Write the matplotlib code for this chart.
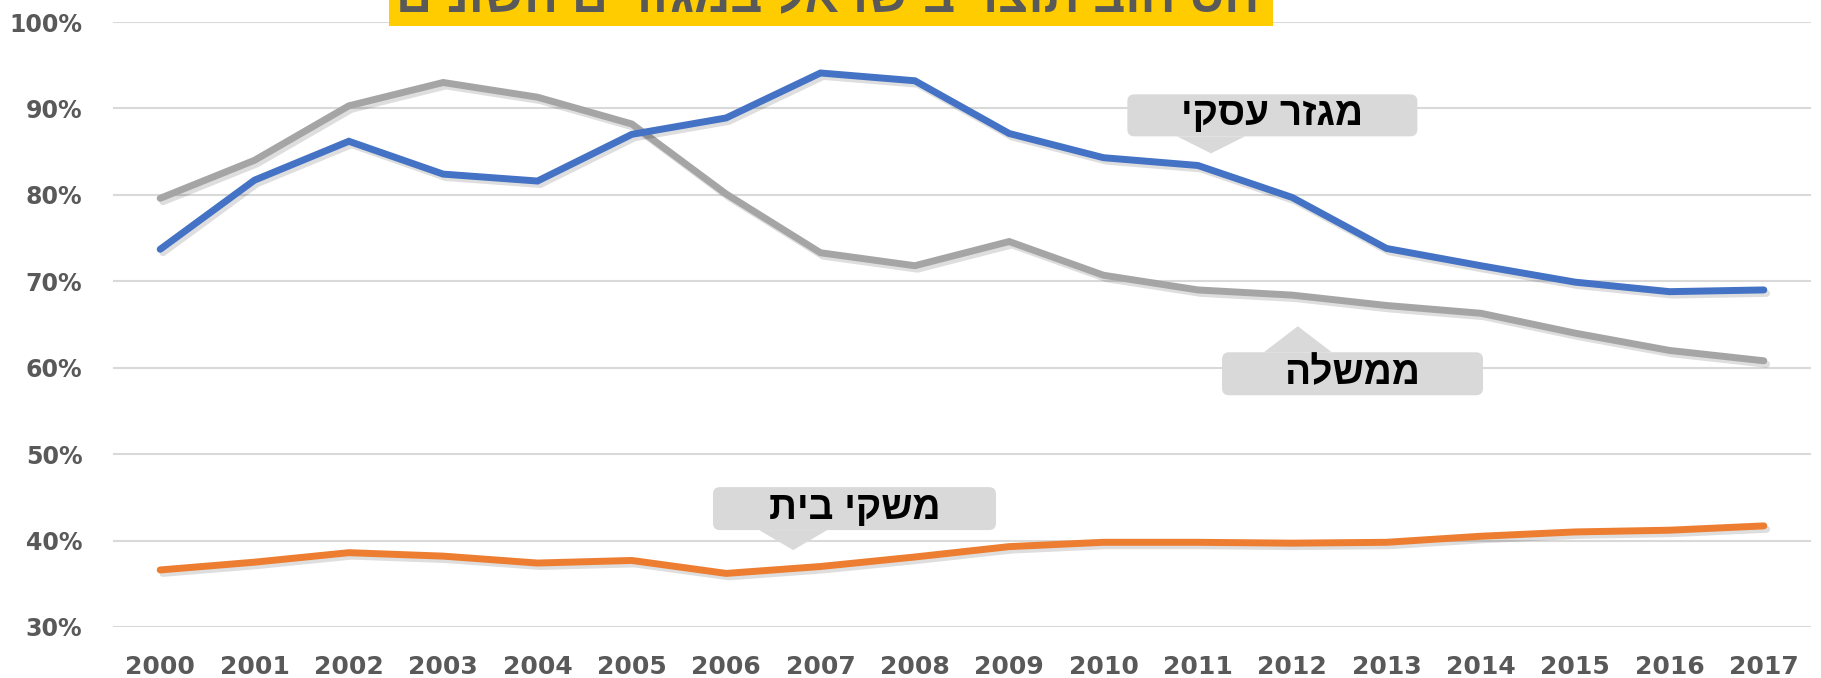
import numpy as np
import matplotlib.pyplot as plt
import matplotlib.patheffects as pe
from matplotlib.patches import FancyBboxPatch, Polygon

# =========================
# Data
# =========================
years = [str(y) for y in range(2000, 2018)]

business = [73.7, 81.7, 86.2, 82.4, 81.6, 87.0, 88.9, 94.1, 93.2, 87.1,
            84.3, 83.4, 79.7, 73.8, 71.8, 69.9, 68.8, 69.0]
government = [79.6, 84.0, 90.3, 93.0, 91.3, 88.2, 80.1, 73.3, 71.8, 74.6,
              70.7, 69.0, 68.4, 67.2, 66.3, 64.0, 62.0, 60.8]
households = [36.6, 37.5, 38.6, 38.2, 37.4, 37.7, 36.2, 37.0, 38.1, 39.3,
              39.8, 39.8, 39.7, 39.8, 40.5, 41.0, 41.2, 41.7]

series_labels = ["מגזר עסקי", "ממשלה", "משקי בית"]
title = "יחס חוב תוצר בישראל במגזרים השונים"

yticks = [30, 40, 50, 60, 70, 80, 90, 100]

# =========================
# Style
# =========================
BLUE = "#4472C4"
GRAY = "#A5A5A5"
ORANGE = "#ED7D31"
TXT = "#595959"
HEB_FONT = "Liberation Sans"


def rtl(s):
    # matplotlib has no bidi support: reverse Hebrew for visual order
    return s[::-1]


W, H = 1821, 678
fig = plt.figure(figsize=(W / 100, H / 100), dpi=100)
ax = fig.add_axes([113 / W, 1 - 627 / H, (1811 - 113) / W, (627 - 22) / H])

x = np.arange(len(years))
shadow = [pe.SimpleLineShadow(offset=(2, -2.5), shadow_color="k", alpha=0.13),
          pe.Normal()]
for vals, col in [(government, GRAY), (business, BLUE), (households, ORANGE)]:
    ax.plot(x, np.array(vals) / 100, color=col, lw=5,
            solid_joinstyle="miter", solid_capstyle="round",
            path_effects=shadow, zorder=3)

ax.set_xlim(-0.5, len(years) - 0.5)
ax.set_ylim(0.30, 1.00)
ax.set_xticks(x)
ax.set_xticklabels(years)
ax.set_yticks([v / 100 for v in yticks])
ax.set_yticklabels([f"{v}%" for v in yticks])
ax.tick_params(length=0, colors=TXT)
ax.tick_params(axis="y", pad=22, labelsize=17)
ax.tick_params(axis="x", pad=20, labelsize=18)
for lab in ax.get_xticklabels() + ax.get_yticklabels():
    lab.set_fontweight("bold")
    lab.set_fontfamily("DejaVu Sans")
for s in ax.spines.values():
    s.set_visible(False)
ax.grid(axis="y", color="#D9D9D9", lw=1.5)
ax.set_axisbelow(True)


# =========================
# Callouts (box + pointer, in pixels)
# =========================
def callout(text, box_xy, tip_xy, size, up):
    bx, by = ax.transData.transform(box_xy)
    tx, ty = ax.transData.transform(tip_xy)
    w, h = size
    box = FancyBboxPatch((bx - w / 2, by - h / 2), w, h,
                         boxstyle="round,pad=0,rounding_size=7",
                         fc="#D9D9D9", ec="none", transform=None, zorder=5)
    fig.add_artist(box)
    edge = by + h / 2 if up else by - h / 2
    tri = Polygon([(tx - 34, edge), (tx + 34, edge), (tx, ty)], closed=True,
                  fc="#D9D9D9", ec="none", transform=None, zorder=5)
    fig.add_artist(tri)
    fig.text(bx / W, by / H, rtl(text), ha="center", va="center",
             fontsize=28, fontweight="bold", family=HEB_FONT, color="black",
             zorder=6)


callout(series_labels[0], (11.79, 0.892), (11.14, 0.848), (290, 42), False)
callout(series_labels[1], (12.64, 0.593), (12.06, 0.648), (261, 43), True)
callout(series_labels[2], (7.36, 0.437), (6.71, 0.389), (283, 43), False)

# =========================
# Title (cut off at the top, as in the source)
# =========================
fig.add_artist(FancyBboxPatch((389 / W, 1 - 26 / H), 884 / W, 60 / H,
                              boxstyle="square,pad=0", fc="#FFCC00",
                              ec="none", transform=fig.transFigure, zorder=4))
fig.text(835 / W, 1 - 12 / H, rtl(title), ha="center", va="baseline",
         fontsize=36, fontweight="bold", family=HEB_FONT, color=TXT, zorder=5)

fig.savefig("out.png", dpi=100)
